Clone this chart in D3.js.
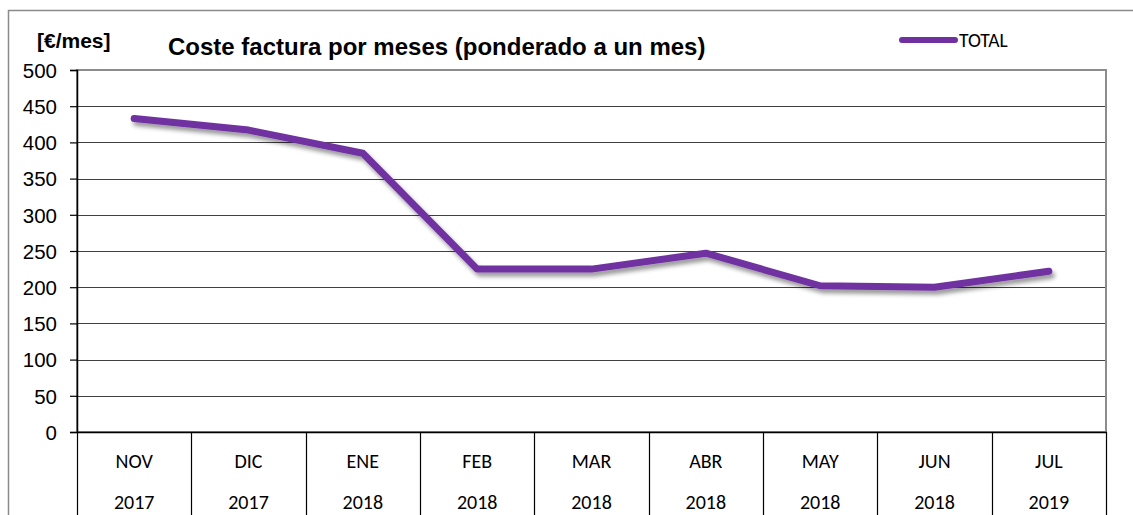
<!DOCTYPE html>
<html>
<head>
<meta charset="utf-8">
<script src="https://cdn.jsdelivr.net/npm/d3@7"></script>
<style>
  html, body { margin: 0; padding: 0; background: #fff; }
  svg { display: block; }
</style>
</head>
<body>
<svg id="chart" width="1133" height="515"></svg>
<script>
// Monthly invoice cost, weighted to one month
const months = ["NOV", "DIC", "ENE", "FEB", "MAR", "ABR", "MAY", "JUN", "JUL"];
const years  = ["2017", "2017", "2018", "2018", "2018", "2018", "2018", "2018", "2019"];
const total  = [433, 417, 385, 225, 225, 247, 202, 200, 222];
const yTicks = [0, 50, 100, 150, 200, 250, 300, 350, 400, 450, 500];

const svg = d3.select("#chart");
const W = 1133, H = 515;
const plot = { left: 77, right: 1106, top: 70, bottom: 432 };
const purple = "#7030A0";
const arial = "Liberation Sans, Arial, sans-serif";
const catFont = "Carlito, 'Open Sans', 'Noto Sans', sans-serif";

// drop shadow under the series line
const defs = svg.append("defs");
const f = defs.append("filter").attr("id", "shadow")
  .attr("x", "-5%").attr("y", "-20%").attr("width", "110%").attr("height", "140%");
f.append("feDropShadow").attr("dx", 2.5).attr("dy", 4).attr("stdDeviation", 2.2)
  .attr("flood-color", "#000").attr("flood-opacity", 0.4);

// outer chart frame (left and top edges)
svg.append("path")
  .attr("d", `M8.5,${H} L8.5,10.5 L${W},10.5`)
  .attr("fill", "none").attr("stroke", "#8a8a8a").attr("stroke-width", 1.5);

const x = d3.scaleBand().domain(months.map((m, i) => i)).range([plot.left, plot.right]);
const y = d3.scaleLinear().domain([0, 500]).range([plot.bottom, plot.top]);

// horizontal gridlines
svg.append("g").selectAll("line").data(yTicks.filter(v => v > 0 && v < 500)).join("line")
  .attr("x1", plot.left).attr("x2", plot.right)
  .attr("y1", d => Math.round(y(d)) + 0.5).attr("y2", d => Math.round(y(d)) + 0.5)
  .attr("stroke", "#404040").attr("stroke-width", 1.2);

// plot area border
svg.append("rect")
  .attr("x", plot.left).attr("y", plot.top)
  .attr("width", plot.right - plot.left).attr("height", plot.bottom - plot.top)
  .attr("fill", "none").attr("stroke", "#8c8c8c").attr("stroke-width", 2);

// y axis
const yAxis = d3.axisLeft(y).tickValues(yTicks).tickSize(7).tickPadding(13);
const gy = svg.append("g").attr("transform", `translate(${plot.left},0)`).call(yAxis);
gy.select(".domain").attr("stroke", "#000").attr("stroke-width", 1.5);
gy.selectAll(".tick line").attr("stroke", "#000").attr("stroke-width", 1.2);
gy.selectAll(".tick text")
  .attr("font-family", arial)
  .attr("font-size", 20.5).attr("fill", "#000").attr("dy", "0.36em");

// category table under the plot
svg.append("line")
  .attr("x1", plot.left).attr("x2", plot.right + 1)
  .attr("y1", plot.bottom + 0.5).attr("y2", plot.bottom + 0.5)
  .attr("stroke", "#000").attr("stroke-width", 1.5);
const bounds = months.map((m, i) => x(i)).concat([plot.right]);
svg.append("g").selectAll("line").data(bounds).join("line")
  .attr("x1", d => Math.round(d) + 0.5).attr("x2", d => Math.round(d) + 0.5)
  .attr("y1", plot.bottom).attr("y2", H)
  .attr("stroke", "#000").attr("stroke-width", 1.2);

const cats = svg.append("g");
cats.selectAll("text.m").data(months).join("text")
  .attr("class", "m")
  .attr("x", (d, i) => x(i) + x.bandwidth() / 2).attr("y", 468)
  .attr("text-anchor", "middle").attr("font-family", catFont)
  .attr("font-size", 20).attr("fill", "#000").text(d => d);
cats.selectAll("text.y").data(years).join("text")
  .attr("class", "y")
  .attr("x", (d, i) => x(i) + x.bandwidth() / 2).attr("y", 509)
  .attr("text-anchor", "middle").attr("font-family", catFont)
  .attr("font-size", 20).attr("fill", "#000").text(d => d);

// series line
const line = d3.line()
  .x((d, i) => x(i) + x.bandwidth() / 2)
  .y(d => y(d));
svg.append("path").datum(total)
  .attr("d", line)
  .attr("fill", "none").attr("stroke", purple).attr("stroke-width", 7)
  .attr("stroke-linejoin", "round").attr("stroke-linecap", "round")
  .attr("filter", "url(#shadow)");

// titles
svg.append("text").attr("x", 37).attr("y", 48)
  .attr("font-family", arial).attr("font-weight", "bold")
  .attr("font-size", 21).attr("fill", "#000").text("[€/mes]");
svg.append("text").attr("x", 168).attr("y", 55)
  .attr("font-family", arial).attr("font-weight", "bold")
  .attr("font-size", 24).attr("fill", "#000").text("Coste factura por meses (ponderado a un mes)");

// legend
svg.append("line").attr("x1", 902).attr("x2", 955).attr("y1", 40).attr("y2", 40)
  .attr("stroke", purple).attr("stroke-width", 6).attr("stroke-linecap", "round");
svg.append("text").attr("x", 959).attr("y", 46.5)
  .attr("font-family", catFont).attr("font-size", 19.5).attr("fill", "#000").text("TOTAL");
</script>
</body>
</html>
